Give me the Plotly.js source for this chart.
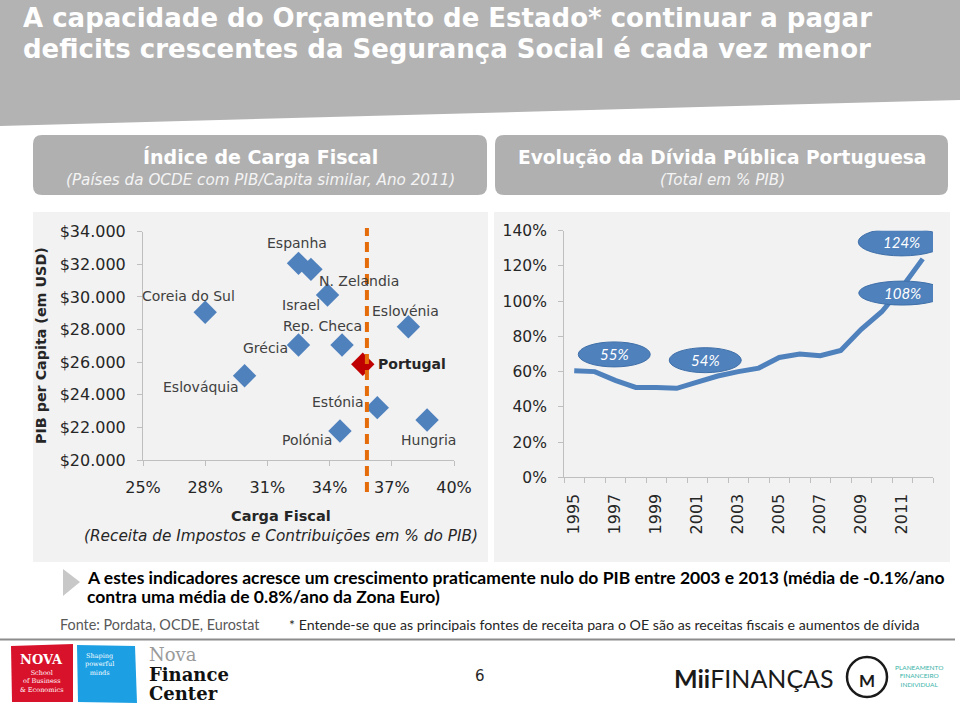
<!DOCTYPE html>
<html><head><meta charset="utf-8">
<script src="https://cdn.plot.ly/plotly-3.0.1.min.js"></script>
<style>html,body{margin:0;padding:0;background:#fff}#chart{width:960px;height:705px}</style>
</head><body><div id="chart"></div>
<script>
// ---------- DATA ----------
const countries = ['Espanha','N. Zelandia','Israel','Coreia do Sul','Eslovénia','Rep. Checa','Grécia','Eslováquia','Estónia','Hungria','Polónia'];
const taxBurden = [32.5, 33.1, 33.9, 28.0, 37.8, 34.6, 32.5, 29.9, 36.3, 38.7, 34.5];
const gdpPerCapita = [32060, 31690, 30120, 29060, 28170, 27050, 27050, 25170, 23210, 22450, 21780];
const portugalName = ['Portugal'];
const portugalTax = [35.6];
const portugalGdp = [25870];
const portugalLineX = 35.8;
const taxTicks = [25, 28, 31, 34, 37, 40];
const gdpTicks = [20000, 22000, 24000, 26000, 28000, 30000, 32000, 34000];

const years = [1995,1996,1997,1998,1999,2000,2001,2002,2003,2004,2005,2006,2007,2008,2009,2010,2011,2012];
const debt = [60.5, 60, 55, 51, 51, 50.5, 54, 57.5, 60, 62, 68, 70, 69, 72, 84, 94, 108, 124];
const debtLabelYears = [1997, 2001, 2011, 2012];
const yearTickLabels = [1995, 1997, 1999, 2001, 2003, 2005, 2007, 2009, 2011];
const debtTicks = [0, 20, 40, 60, 80, 100, 120, 140];

// ---------- LAYOUT HELPERS ----------
const W = 960, H = 705;
const px = x => x / W, py = y => 1 - y / H;
const F = '"DejaVu Sans", sans-serif';
const L = 'Lato, "Open Sans", sans-serif';
const SERIF = '"DejaVu Serif", serif';
const BLUE = '#4f81bd';

// label offsets (pixels) relative to points
const labelShift = {
  'Espanha':[-2,20,'center'], 'N. Zelandia':[48,-12,'center'], 'Israel':[-27,-10,'center'],
  'Coreia do Sul':[-17,16,'center'], 'Eslovénia':[-3,16,'center'], 'Rep. Checa':[-20,19,'center'],
  'Grécia':[-33,-3,'center'], 'Eslováquia':[-44,-11,'center'], 'Estónia':[-39,6,'center'],
  'Hungria':[1,-20,'center'], 'Polónia':[-33,-9,'center']
};
const ellipse = { 1997:[-1,26,72,25], 2001:[8,22,72,25], 2011:[0,-6,87,24], 2012:[-21,17,87,28] };

function rr(x0,y0,x1,y1,r){
  const X=v=>px(v), Y=v=>py(v);
  return `M ${X(x0+r)} ${Y(y0)} L ${X(x1-r)} ${Y(y0)} Q ${X(x1)} ${Y(y0)} ${X(x1)} ${Y(y0+r)} L ${X(x1)} ${Y(y1-r)} Q ${X(x1)} ${Y(y1)} ${X(x1-r)} ${Y(y1)} L ${X(x0+r)} ${Y(y1)} Q ${X(x0)} ${Y(y1)} ${X(x0)} ${Y(y1-r)} L ${X(x0)} ${Y(y0+r)} Q ${X(x0)} ${Y(y0)} ${X(x0+r)} ${Y(y0)} Z`;
}
function A(text, x, y, o={}) {
  return Object.assign({text, xref:'paper', yref:'paper', x:px(x), y:py(y), showarrow:false,
    xanchor:'left', yanchor:'middle', font:{family:F, size:14, color:'#000'}}, o);
}

// ---------- TRACES ----------
const traces = [
  {type:'scatter', mode:'markers', x:taxBurden, y:gdpPerCapita, text:countries, xaxis:'x', yaxis:'y',
   marker:{symbol:'diamond', size:18, color:BLUE}, hoverinfo:'text'},
  {type:'scatter', mode:'markers', x:portugalTax, y:portugalGdp, text:portugalName, xaxis:'x', yaxis:'y',
   marker:{symbol:'diamond', size:18, color:'#c00000'}, hoverinfo:'text'},
  {type:'scatter', mode:'lines', x:years, y:debt, xaxis:'x2', yaxis:'y2',
   line:{color:BLUE, width:5}, hoverinfo:'x+y'}
];

// ---------- SHAPES ----------
const shapes = [
  {type:'path', xref:'paper', yref:'paper', path:`M 0 ${py(0)} L 1 ${py(0)} L 1 ${py(100)} L 0 ${py(126)} Z`, fillcolor:'#b3b3b3', line:{width:0}, layer:'below'},
  {type:'path', xref:'paper', yref:'paper', path:rr(33,135,487,195,9), fillcolor:'#b0b0b0', line:{width:0}, layer:'below'},
  {type:'path', xref:'paper', yref:'paper', path:rr(495,135,948,195,9), fillcolor:'#b0b0b0', line:{width:0}, layer:'below'},
  {type:'rect', xref:'paper', yref:'paper', x0:px(33), x1:px(488), y0:py(562), y1:py(212), fillcolor:'#f2f2f2', line:{width:0}, layer:'below'},
  {type:'rect', xref:'paper', yref:'paper', x0:px(494), x1:px(950), y0:py(562), y1:py(212), fillcolor:'#f2f2f2', line:{width:0}, layer:'below'},
  {type:'line', xref:'x', yref:'paper', x0:portugalLineX, x1:portugalLineX, y0:py(492), y1:py(228), line:{color:'#e46c0a', width:4, dash:'10px,6px'}},
  {type:'path', xref:'paper', yref:'paper', path:`M ${px(63)} ${py(569)} L ${px(80)} ${py(582)} L ${px(63)} ${py(596)} Z`, fillcolor:'#c8c8c8', line:{width:0}},
  {type:'line', xref:'paper', yref:'paper', x0:0, x1:px(955), y0:py(639.5), y1:py(639.5), line:{color:'#8c8c8c', width:2}},
  {type:'path', xref:'paper', yref:'paper', path:`M ${px(11)} ${py(646)} L ${px(73)} ${py(644)} L ${px(73)} ${py(702)} L ${px(12)} ${py(702)} Z`, fillcolor:'#d9122b', line:{width:0}},
  {type:'path', xref:'paper', yref:'paper', path:`M ${px(77)} ${py(645)} L ${px(135)} ${py(646)} L ${px(137)} ${py(703)} L ${px(78)} ${py(702)} Z`, fillcolor:'#1c9fe3', line:{width:0}},
  {type:'circle', xref:'paper', yref:'paper', x0:px(847), x1:px(887), y0:py(697), y1:py(657), line:{color:'#1a1a1a', width:2.5}}
];
debtLabelYears.forEach(yr => {
  const v = debt[years.indexOf(yr)], e = ellipse[yr];
  shapes.push({type:'circle', xref:'x2', yref:'y2', xsizemode:'pixel', ysizemode:'pixel', xanchor:yr, yanchor:v,
    x0:e[0]-e[2]/2, x1:e[0]+e[2]/2, y0:e[1]-e[3]/2, y1:e[1]+e[3]/2, fillcolor:BLUE, line:{color:'#3f6fa8', width:1}});
});

// ---------- ANNOTATIONS ----------
const annotations = [
  A('<b>A capacidade do Orçamento de Estado* continuar a pagar</b>', 21, 18, {font:{family:F, size:26, color:'#fff'}}),
  A('<b>deficits crescentes da Segurança Social é cada vez menor</b>', 21, 49, {font:{family:F, size:26, color:'#fff'}}),
  A('<b>Índice de Carga Fiscal</b>', 260, 157, {xanchor:'center', font:{family:F, size:19, color:'#fff'}}),
  A('<i>(Países da OCDE com PIB/Capita similar, Ano 2011)</i>', 260, 180, {xanchor:'center', font:{family:F, size:15.2, color:'#f4f4f4'}}),
  A('<b>Evolução da Dívida Pública Portuguesa</b>', 722, 157, {xanchor:'center', font:{family:F, size:18.6, color:'#fff'}}),
  A('<i>(Total em % PIB)</i>', 722, 180, {xanchor:'center', font:{family:F, size:15.2, color:'#f4f4f4'}}),
  A('<b>PIB per Capita (em USD)</b>', 41, 346, {xanchor:'center', textangle:-90, font:{family:F, size:14.3, color:'#262626'}}),
  A('<b>Carga Fiscal</b>', 281, 516, {xanchor:'center', font:{family:F, size:14.5, color:'#262626'}}),
  A('<i>(Receita de Impostos e Contribuições em % do PIB)</i>', 281, 536, {xanchor:'center', font:{family:F, size:15.3, color:'#262626'}}),
  A('<b>A estes indicadores acresce um crescimento praticamente nulo do PIB entre 2003 e 2013 (média de -0.1%/ano</b>', 85, 577, {font:{family:L, size:17.5, color:'#000'}}),
  A('<b>contra uma média de 0.8%/ano da Zona Euro)</b>', 85, 596, {font:{family:L, size:17.5, color:'#000'}}),
  A('Fonte: Pordata, OCDE, Eurostat', 58, 624, {font:{family:L, size:14.4, color:'#595959'}}),
  A('* Entende-se que as principais fontes de receita para o OE são as receitas fiscais e aumentos de dívida', 287, 624, {font:{family:L, size:14.2, color:'#262626'}}),
  A('6', 480, 676, {xanchor:'center', font:{family:F, size:15, color:'#262626'}}),
  A('<b>NOVA</b>', 18, 659, {font:{family:SERIF, size:13, color:'#fff'}}),
  A('School<br>of Business<br>& Economics', 18, 681, {font:{family:SERIF, size:6.5, color:'#fff'}}),
  A('Shaping<br>powerful<br>minds', 83, 664, {font:{family:SERIF, size:6.5, color:'#fff'}}),
  A('Nova', 147, 654, {font:{family:SERIF, size:18, color:'#9a9a9a'}}),
  A('<b>Finance</b>', 147, 674, {font:{family:SERIF, size:18, color:'#111'}}),
  A('<b>Center</b>', 147, 693, {font:{family:SERIF, size:18, color:'#111'}}),
  A('<b>Mii</b>FINANÇAS', 672, 678, {font:{family:L, size:25, color:'#1a1a1a'}}),
  A('<b>M</b>', 867, 680, {xanchor:'center', font:{family:L, size:17, color:'#1a1a1a'}}),
  A('PLANEAMENTO<br>FINANCEIRO<br>INDIVIDUAL', 893, 676, {font:{family:L, size:6.5, color:'#39b3a8'}})
];
countries.forEach((c,i) => {
  const s = labelShift[c];
  annotations.push({text:c, xref:'x', yref:'y', x:taxBurden[i], y:gdpPerCapita[i], xshift:s[0], yshift:s[1],
    showarrow:false, xanchor:s[2], yanchor:'middle', font:{family:F, size:14, color:'#404040'}});
});
annotations.push({text:'<b>'+portugalName[0]+'</b>', xref:'x', yref:'y', x:portugalTax[0], y:portugalGdp[0], xshift:13, yshift:0,
  showarrow:false, xanchor:'left', yanchor:'middle', font:{family:F, size:14, color:'#262626'}});
debtLabelYears.forEach(yr => {
  const v = debt[years.indexOf(yr)], e = ellipse[yr];
  annotations.push({text:'<i>'+Math.round(v)+'%</i>', xref:'x2', yref:'y2', x:yr, y:v, xshift:e[0], yshift:e[1],
    showarrow:false, xanchor:'center', yanchor:'middle', font:{family:L, size:15, color:'#fff'}});
});

// ---------- AXES ----------
const axBase = {showgrid:false, zeroline:false, showline:true, linecolor:'#bfbfbf', linewidth:1,
  ticks:'outside', ticklen:5, tickcolor:'#bfbfbf', tickfont:{family:F, size:16, color:'#262626'}, fixedrange:true};

const layout = {
  width:W, height:H, margin:{l:0, r:0, t:0, b:0}, autosize:false,
  paper_bgcolor:'#ffffff', plot_bgcolor:'rgba(0,0,0,0)', showlegend:false, separators:',.',
  xaxis: Object.assign({}, axBase, {domain:[px(143), px(454)], range:[25,40], tickmode:'array', tickvals:taxTicks,
    ticktext:taxTicks.map(t => t+'%'), ticklabelstandoff:8, anchor:'y'}),
  yaxis: Object.assign({}, axBase, {domain:[py(460), py(231.7)], range:[20000,34000], tickmode:'array', tickvals:gdpTicks,
    ticktext:gdpTicks.map(t => '$' + (t/1000) + '.000'), ticklabelstandoff:8, anchor:'x'}),
  xaxis2: Object.assign({}, axBase, {domain:[px(564), px(933)], range:[1994.5, 2012.5], tickmode:'array', tickvals:yearTickLabels,
    ticktext:yearTickLabels.map(String), ticks:'', tickangle:-90, ticklabelstandoff:9, anchor:'y2',
    minor:{tickmode:'linear', tick0:1994.5, dtick:1, ticks:'outside', ticklen:5, tickcolor:'#bfbfbf', showgrid:false}}),
  yaxis2: Object.assign({}, axBase, {domain:[py(477.3), py(230.7)], range:[0,140], tickmode:'array', tickvals:debtTicks,
    ticktext:debtTicks.map(t => t+'%'), ticklabelstandoff:8, anchor:'x2', tickfont:{family:F, size:15.5, color:'#262626'}}),
  shapes, annotations
};
Plotly.newPlot('chart', traces, layout, {displayModeBar:false, staticPlot:true});
</script></body></html>
